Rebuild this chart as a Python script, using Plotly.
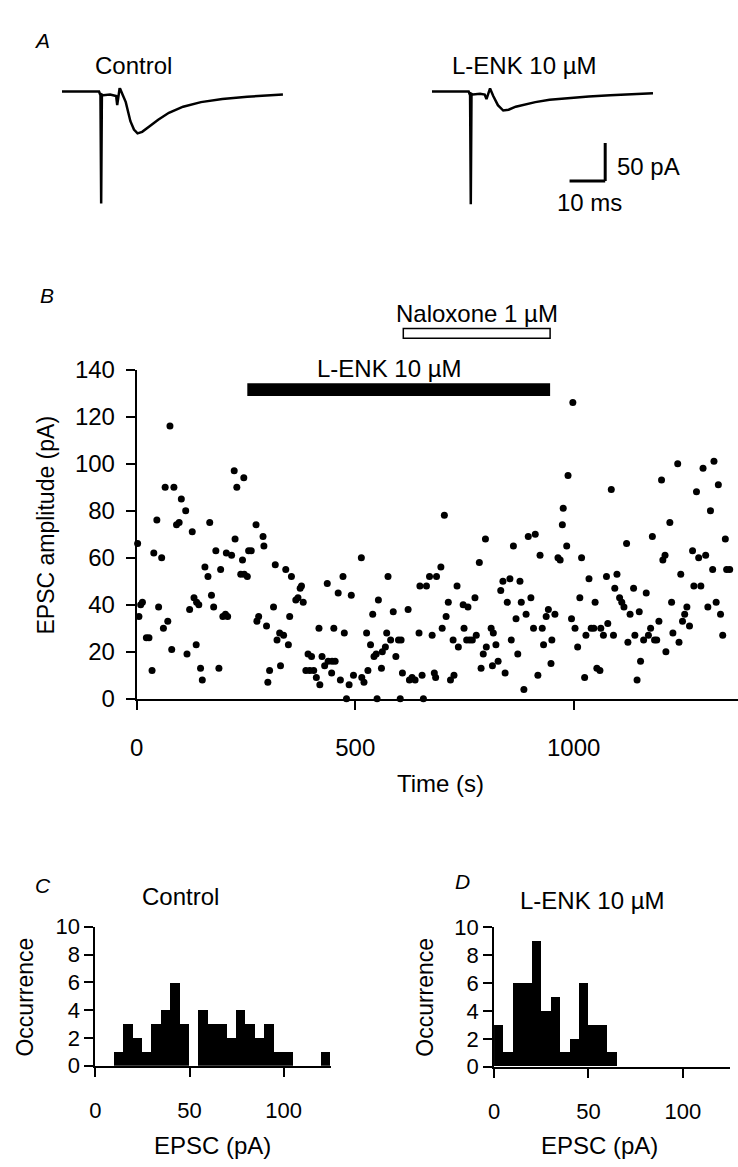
import plotly.graph_objects as go

W, H = 738, 1167

# Panel A: sample EPSC traces (time in ms, current in pA)
control_trace_t = [0, 10.4, 10.8, 11.0, 11.2, 11.6, 13.5, 15.2, 15.5, 15.8, 16.2, 16.9, 17.9, 19.2,
                   20.2, 21.2, 22.5, 24.5, 27.0, 30.0, 34.0, 39.0, 45.0, 52.0, 62.0]
control_trace_i = [0, 0, -5, -147, -4, -5, -4, -6, -18, -6, 5, -3, -14, -39,
                   -50, -55, -53, -46, -37, -28, -20, -14, -10, -7, -4]
lenk_trace_t = [0, 10.3, 10.7, 10.9, 11.1, 11.5, 13.5, 14.8, 15.3, 15.8, 16.3, 17.2, 18.5, 20.0,
                21.5, 23.5, 26.0, 29.0, 33.0, 38.0, 44.0, 50.0, 62.0]
lenk_trace_i = [0, 0, -5, -148, -3, -4, -3, -4, -10, -2, 4, -6, -18, -25,
                -24, -20, -17, -14, -11, -8.5, -6.5, -5, -2.5]

# Panel B: EPSC amplitude vs time
time_s = [2, 5, 9, 13, 22, 28, 35, 39, 46, 50, 57, 61, 65, 71, 76, 80, 85, 91, 97, 102, 112, 115, 121, 127,
          131, 136, 137, 142, 146, 150, 156, 163, 167, 171, 176, 181, 188, 192, 197, 203, 205, 208, 217,
          223, 225, 229, 238, 242, 245, 246, 253, 256, 262, 273, 275, 279, 289, 291, 297, 300, 304, 313,
          317, 321, 327, 329, 336, 341, 347, 350, 354, 364, 369, 374, 377, 381, 387, 392, 396, 400, 405,
          411, 417, 419, 424, 430, 436, 438, 446, 447, 451, 454, 461, 466, 472, 475, 480, 486, 491, 496,
          514, 515, 520, 526, 529, 535, 540, 543, 548, 550, 553, 560, 562, 569, 572, 575, 581, 587, 593,
          599, 603, 605, 608, 621, 624, 630, 637, 646, 648, 653, 656, 663, 670, 676, 681, 684, 686, 696,
          699, 704, 708, 713, 718, 724, 726, 733, 736, 747, 749, 755, 758, 762, 768, 774, 777, 784, 788,
          793, 798, 800, 811, 814, 816, 822, 827, 833, 838, 843, 848, 854, 857, 862, 868, 872, 877, 880,
          886, 891, 896, 902, 908, 912, 918, 923, 928, 931, 937, 942, 948, 950, 957, 964, 969, 974, 976,
          984, 987, 995, 998, 1003, 1009, 1014, 1018, 1025, 1028, 1035, 1040, 1046, 1049, 1053, 1060,
          1062, 1068, 1075, 1078, 1086, 1091, 1094, 1099, 1105, 1110, 1115, 1121, 1124, 1129, 1137,
          1140, 1145, 1150, 1153, 1160, 1166, 1171, 1176, 1180, 1185, 1190, 1195, 1201, 1204, 1209,
          1211, 1220, 1224, 1227, 1238, 1241, 1245, 1249, 1254, 1259, 1265, 1272, 1275, 1281, 1286,
          1291, 1296, 1302, 1307, 1313, 1318, 1321, 1326, 1331, 1336, 1341, 1347, 1350, 1357]
epsc_pa = [66, 35, 40, 41, 26, 26, 12, 62, 76, 39, 60, 30, 90, 33, 116, 21, 90, 74, 75, 85, 80, 19, 38, 71,
           43, 23, 41, 40, 13, 8, 56, 52, 75, 44, 39, 63, 13, 55, 35, 36, 62, 35, 61,
           97, 68, 90, 53, 59, 94, 53, 52, 63, 63, 74, 33, 35, 69, 65, 31, 7, 12, 39,
           57, 25, 28, 14, 27, 55, 23, 35, 52, 42, 43, 47, 48, 41, 12, 19, 12, 18, 12,
           9, 30, 6, 18, 14, 49, 16, 11, 16, 30, 16, 45, 8, 52, 28, 0, 6, 44, 10,
           60, 9, 7, 28, 12, 23, 36, 18, 19, 0, 42, 13, 20, 22, 28, 52, 25, 37, 18,
           25, 0, 25, 11, 38, 8, 9, 8, 28, 48, 10, 0, 48, 52, 27, 11, 9, 52, 56,
           30, 78, 35, 41, 8, 25, 10, 48, 22, 40, 30, 25, 39, 25, 25, 43, 27, 58, 13,
           19, 68, 22, 30, 14, 28, 23, 16, 46, 50, 11, 41, 51, 25, 65, 34, 19, 50, 41,
           4, 36, 69, 43, 30, 70, 10, 61, 30, 23, 35, 38, 15, 25, 36, 60, 59, 74, 81,
           65, 95, 34, 126, 30, 22, 43, 60, 9, 27, 51, 30, 30, 41, 13, 12,
           30, 27, 52, 32, 89, 27, 47, 53, 43, 41, 39, 66, 24, 36, 47,
           27, 8, 37, 16, 25, 45, 27, 30, 69, 25, 25, 33, 93, 59, 61,
           20, 75, 41, 28, 100, 24, 53, 33, 36, 39, 31, 63, 48, 88, 60,
           48, 98, 61, 39, 80, 55, 101, 41, 91, 36, 27, 68, 55, 55]
lenk_period = [253, 946]
naloxone_period = [610, 946]

# Panels C and D: amplitude histograms, 5 pA bins
bin_left = [0, 5, 10, 15, 20, 25, 30, 35, 40, 45, 50, 55, 60, 65, 70, 75, 80, 85, 90, 95,
            100, 105, 110, 115, 120]
control_counts = [0, 0, 1, 3, 2, 1, 3, 4, 6, 3, 0, 4, 3, 3, 2, 4, 3, 2, 3, 1, 1, 0, 0, 0, 1]
lenk_counts = [3, 1, 6, 6, 9, 4, 5, 1, 2, 6, 3, 3, 1, 0, 0, 0, 0, 0, 0, 0, 0, 0, 0, 0, 0]

FONT = "Liberation Sans"


def px(x):
    return x / W


def py(y):
    return 1 - y / H


fig = go.Figure()

fig.add_trace(go.Scatter(x=control_trace_t, y=control_trace_i, mode="lines",
                         line=dict(color="black", width=2.5), xaxis="x4", yaxis="y4"))
fig.add_trace(go.Scatter(x=lenk_trace_t, y=lenk_trace_i, mode="lines",
                         line=dict(color="black", width=2.5), xaxis="x5", yaxis="y5"))

fig.add_trace(go.Scatter(x=time_s, y=epsc_pa, mode="markers", cliponaxis=False,
                         marker=dict(color="black", size=7), xaxis="x", yaxis="y"))

fig.add_trace(go.Bar(x=bin_left, y=control_counts, width=5, offset=0,
                     marker=dict(color="black", line=dict(width=0)), xaxis="x2", yaxis="y2"))
fig.add_trace(go.Bar(x=bin_left, y=lenk_counts, width=5, offset=0,
                     marker=dict(color="black", line=dict(width=0)), xaxis="x3", yaxis="y3"))

axis_style = dict(showgrid=False, zeroline=False, showline=True, linecolor="black", linewidth=2,
                  ticks="outside", ticklen=9, tickwidth=2, tickcolor="black",
                  tickfont=dict(family=FONT, size=22, color="black"))
big_ticks = dict(family=FONT, size=24, color="black")
hidden = dict(visible=False, showgrid=False, zeroline=False, fixedrange=True)

fig.update_layout(
    width=W, height=H, autosize=False,
    margin=dict(l=0, r=0, t=0, b=0, pad=0),
    paper_bgcolor="white", plot_bgcolor="white",
    showlegend=False, bargap=0,
    font=dict(family=FONT, color="black"),
    xaxis=dict(axis_style, domain=[px(131), 1.0], range=[0, 1376], tickvals=[0, 500, 1000],
               anchor="y", ticklabelstandoff=17, tickfont=big_ticks),
    yaxis=dict(axis_style, domain=[py(701), py(364)], range=[0, 140], dtick=20,
               anchor="x", ticklabelstandoff=6, tickfont=big_ticks),
    xaxis2=dict(axis_style, domain=[px(89.3), px(326.7)], range=[0, 125], tickvals=[0, 50, 100],
                anchor="y2", ticklabelstandoff=15),
    yaxis2=dict(axis_style, domain=[py(1076.7), py(934.3)], range=[0, 10], dtick=2, anchor="x2"),
    xaxis3=dict(axis_style, domain=[px(491.7), px(730)], range=[0, 125], tickvals=[0, 50, 100],
                anchor="y3", ticklabelstandoff=15),
    yaxis3=dict(axis_style, domain=[py(1077.7), py(935)], range=[0, 10], dtick=2, anchor="x3"),
    xaxis4=dict(hidden, domain=[px(55.5), px(280)], range=[0, 62.4], anchor="y4"),
    yaxis4=dict(hidden, domain=[py(196.3), py(75.4)], range=[-150, 5], anchor="x4"),
    xaxis5=dict(hidden, domain=[px(429), px(653.6)], range=[0, 62.4], anchor="y5"),
    yaxis5=dict(hidden, domain=[py(196.3), py(75.4)], range=[-150, 5], anchor="x5"),
)

# drug application bars
fig.add_shape(type="rect", xref="x", yref="paper", x0=lenk_period[0], x1=lenk_period[1],
              y0=py(391), y1=py(378), fillcolor="black", line=dict(width=0))
fig.add_shape(type="rect", xref="x", yref="paper", x0=naloxone_period[0], x1=naloxone_period[1],
              y0=py(332), y1=py(322), fillcolor="white", line=dict(color="black", width=1.5))

# scale bar: 10 ms x 50 pA
fig.add_shape(type="line", xref="x5", yref="y5", x0=48.6, x1=48.6, y0=-117.6, y1=-67.6,
              line=dict(color="black", width=3))
fig.add_shape(type="line", xref="x5", yref="y5", x0=38.6, x1=48.6, y0=-117.6, y1=-117.6,
              line=dict(color="black", width=3))


def label(text, x, y, size=24, angle=0):
    fig.add_annotation(text=text, x=px(x), y=py(y), xref="paper", yref="paper",
                       showarrow=False, xanchor="center", yanchor="middle", textangle=angle,
                       font=dict(family=FONT, size=size, color="black"))


label("<i>A</i>", 35, 27, 21)
label("Control", 128, 53)
label("L-ENK 10 µM", 522, 53)
label("50 pA", 648, 156)
label("10 ms", 588, 193)

label("<i>B</i>", 40, 288, 21)
label("Naloxone 1 µM", 474, 307)
label("L-ENK 10 µM", 386, 363)
label("EPSC amplitude (pA)", 39, 523, 23, -90)
label("Time (s)", 438, 788)

label("<i>C</i>", 36, 892, 21)
label("Control", 175, 903)
label("Occurrence", 18, 1006, 23, -90)
label("EPSC (pA)", 207, 1158)

label("<i>D</i>", 460, 888, 21)
label("L-ENK 10 µM", 591, 908)
label("Occurrence", 422, 1006, 23, -90)
label("EPSC (pA)", 598, 1158)

fig.write_html("out.html", config={"displayModeBar": False},
               post_script="document.body.style.margin='0';")
